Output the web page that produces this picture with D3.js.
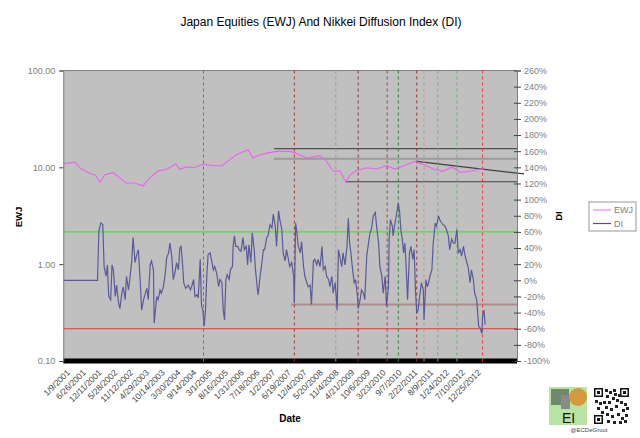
<!DOCTYPE html>
<html>
<head>
<meta charset="utf-8">
<script src="https://cdn.jsdelivr.net/npm/d3@7"></script>
<style>
  body { margin: 0; background: #fff; }
  svg { display: block; font-family: "Liberation Sans", Arial, sans-serif; }
</style>
</head>
<body>
<div id="chart"></div>
<script>
// weekly data, week 0 = 1/9/2001
const startDate = new Date(2001, 0, 9);
const endDate = new Date(2014, 2, 27);

const ewjWeeks = [0, 18, 25, 41, 48, 56, 63, 76, 89, 96, 109, 121, 129, 144, 157, 171, 177, 188, 198, 213,
  228, 241, 253, 263, 281, 288, 299, 311, 324, 344, 352, 370, 390, 400, 410, 420, 429, 436, 446, 461,
  476, 491, 504, 522, 534, 547, 562, 577, 590, 603, 618, 633, 638];
const ewjValues = [10.9, 11.3, 9.9, 8.6, 8.4, 7.0, 8.4, 8.8, 7.5, 6.9, 6.9, 6.4, 7.5, 9.2, 9.5, 10.9, 9.6, 10.1, 9.9, 10.8,
  10.4, 10.4, 12.0, 13.5, 15.2, 12.5, 13.5, 14.1, 14.6, 14.6, 14.1, 12.5, 13.2, 11.5, 9.1, 9.2, 7.1, 8.4, 9.3, 9.9,
  9.6, 10.4, 9.6, 10.7, 11.5, 10.7, 9.6, 9.1, 10.1, 8.9, 9.1, 9.6, 9.5];

const diWeeks = [0, 52, 54, 57, 60, 62, 65, 67, 69, 72, 74, 76, 79, 81, 84, 86, 89, 91, 94, 96,
  99, 101, 104, 106, 109, 111, 114, 117, 119, 122, 124, 127, 129, 132, 134, 137, 138, 142, 144, 147,
  149, 152, 155, 157, 160, 162, 165, 167, 170, 172, 175, 177, 179, 181, 183, 186, 190, 193, 195, 198,
  200, 203, 205, 208, 210, 212, 214, 216, 218, 220, 223, 225, 228, 230, 233, 236, 238, 241, 243, 245,
  247, 249, 252, 254, 257, 258, 260, 262, 265, 267, 270, 273, 275, 278, 280, 282, 285, 287, 290, 292,
  295, 296, 299, 301, 304, 306, 309, 311, 314, 317, 319, 322, 324, 327, 329, 332, 334, 337, 339, 342,
  344, 347, 350, 351, 353, 355, 357, 360, 362, 365, 367, 370, 372, 375, 377, 380, 382, 385, 387, 390,
  393, 395, 398, 400, 403, 405, 408, 410, 413, 415, 416, 418, 420, 423, 425, 428, 431, 433, 435, 437,
  439, 442, 444, 447, 448, 451, 453, 456, 458, 461, 463, 466, 468, 471, 474, 476, 479, 481, 484, 486,
  489, 491, 494, 495, 497, 500, 501, 504, 506, 509, 511, 513, 515, 517, 519, 522, 523, 526, 528, 531,
  533, 535, 537, 539, 542, 544, 547, 548, 551, 553, 555, 557, 560, 562, 565, 567, 570, 572, 575, 577,
  580, 582, 585, 587, 590, 593, 595, 598, 600, 603, 605, 608, 610, 613, 615, 618, 620, 623, 625, 628,
  631, 633, 636, 637, 639, 641];
const diValues = [0, 0, 61, 71, 69, 17, 5, 19, -20, -24, 19, 13, -20, -6, -28, -35, -16, -8, -24, 5,
  -12, 1, 24, 53, 22, 30, 38, -3, -37, -24, -18, -10, -24, 19, 24, 13, -53, -20, -24, -12,
  -16, -8, 9, 28, 34, 46, 28, 1, 11, 22, 13, 40, 42, 22, -3, -10, -6, -12, -8, 1,
  -20, -18, -22, 26, -32, -37, -57, -37, 5, 32, 34, 26, 13, 17, 9, -8, 1, -3, -37, -49,
  1, 7, 1, 13, 17, 42, 55, 42, 42, 38, 36, 53, 38, 42, 19, 44, 22, 59, 38, 13,
  -12, -18, 5, 17, 38, 38, 53, 55, 69, 65, 82, 67, 42, 86, 75, 63, 34, 24, 38, 26,
  17, 22, 5, -28, 71, 59, 42, 34, 48, 17, 5, -3, -8, -6, -30, 24, 26, 19, 26, 17,
  42, 13, 17, 5, 1, -8, 5, -16, -3, -24, -37, 38, 30, 17, 34, 19, 42, 77, 46, 34,
  17, -3, 1, -20, -35, -24, -12, -16, -24, 30, 42, 59, 63, 80, 84, 67, 46, 17, 5, -16,
  5, -32, -8, 51, 75, 67, 55, 71, 80, 96, 84, 61, 51, 34, 46, -3, -24, 34, 42, 26,
  38, -12, -41, -37, -16, -3, -12, -49, 1, -8, -3, 5, 13, 46, 71, 67, 80, 75, 71, 69,
  67, 63, 55, 38, 51, 46, 46, 63, 34, 38, 30, 42, 32, 22, 17, -3, 13, 1, -16, -24,
  -57, -59, -66, -45, -37, -55];

// reference levels on the EWJ axis
const ewjLevelValues = [15.6, 12.3, 7.1];
const ewjLevelStarts = [320, 320, 429];
const ewjLevelColors = ["#505050", "#9a9a9a", "#404040"];
const trendWeeks = [537, 700];
const trendValues = [11.5, 8.55];

// reference levels on the DI axis
const diLevelValues = [60, -60, -30];
const diLevelStarts = [0, 0, 346];
const diLevelColors = ["#33ee33", "#e05555", "#b08a8a"];

// dashed signal lines
const signalWeeks = [213, 351, 414, 448, 492, 509, 537, 548, 569, 598, 637];
const signalColors = ["#d04545", "#a03535", "#c08a8a", "#9a3030", "#a04040", "#2a8a2a",
  "#903030", "#c09595", "#6fb06f", "#6fb06f", "#ff3535"];

const ewjTicks = [100, 10, 1, 0.1];
const diTicks = d3.range(-100, 261, 20);

const W = 640, H = 438;
const plot = { left: 63.3, right: 517, top: 70.5, bottom: 361 };

const weekDate = w => d3.timeDay.offset(startDate, Math.round(w * 7));

const x = d3.scaleTime().domain([startDate, endDate]).range([plot.left, plot.right]);
const yE = d3.scaleLog().domain([0.1, 100]).range([plot.bottom, plot.top]);
const yD = d3.scaleLinear().domain([-100, 260]).range([plot.bottom, plot.top]);

const svg = d3.select("#chart").append("svg").attr("width", W).attr("height", H);

svg.append("rect").attr("x", plot.left).attr("y", plot.top)
  .attr("width", plot.right - plot.left).attr("height", plot.bottom - plot.top)
  .attr("fill", "#c0c0c0");
svg.append("line").attr("x1", plot.left).attr("x2", plot.right)
  .attr("y1", plot.top).attr("y2", plot.top).attr("stroke", "#808080");

// thick black base
svg.append("line").attr("x1", plot.left).attr("x2", plot.right)
  .attr("y1", plot.bottom).attr("y2", plot.bottom)
  .attr("stroke", "#000").attr("stroke-width", 5);

// DI levels
svg.selectAll(".dilevel").data(diLevelValues).join("line")
  .attr("x1", (d, i) => x(weekDate(diLevelStarts[i]))).attr("x2", plot.right)
  .attr("y1", d => yD(d)).attr("y2", d => yD(d))
  .attr("stroke", (d, i) => diLevelColors[i])
  .attr("stroke-width", (d, i) => i === 2 ? 2 : 1.2);

// EWJ levels
svg.selectAll(".elevel").data(ewjLevelValues).join("line")
  .attr("x1", (d, i) => x(weekDate(ewjLevelStarts[i]))).attr("x2", plot.right)
  .attr("y1", d => yE(d)).attr("y2", d => yE(d))
  .attr("stroke", (d, i) => ewjLevelColors[i])
  .attr("stroke-width", (d, i) => i === 1 ? 2 : 1.2);

svg.append("line")
  .attr("x1", x(weekDate(trendWeeks[0]))).attr("x2", x(weekDate(trendWeeks[1])))
  .attr("y1", yE(trendValues[0])).attr("y2", yE(trendValues[1]))
  .attr("stroke", "#404040").attr("stroke-width", 1.2);

// signals
svg.selectAll(".signal").data(signalWeeks).join("line")
  .attr("x1", d => x(weekDate(d))).attr("x2", d => x(weekDate(d)))
  .attr("y1", plot.top).attr("y2", plot.bottom + 2)
  .attr("stroke", (d, i) => signalColors[i])
  .attr("stroke-dasharray", "3,3");

// series
const diLine = d3.line().x((d, i) => x(weekDate(diWeeks[i]))).y(d => yD(d));
svg.append("path").datum(diValues).attr("d", diLine)
  .attr("fill", "none").attr("stroke", "#5a5a98").attr("stroke-width", 1.2);

const ewjLine = d3.line().x((d, i) => x(weekDate(ewjWeeks[i]))).y(d => yE(d));
svg.append("path").datum(ewjValues).attr("d", ewjLine)
  .attr("fill", "none").attr("stroke", "#f060f0").attr("stroke-width", 1.1);

// axes
const gL = svg.append("g").attr("transform", `translate(${plot.left},0)`)
  .call(d3.axisLeft(yE).tickValues(ewjTicks).tickFormat(d3.format(".2f")).tickSize(4).tickPadding(4));
const gR = svg.append("g").attr("transform", `translate(${plot.right},0)`)
  .call(d3.axisRight(yD).tickValues(diTicks).tickFormat(d => d + "%").tickSize(4).tickPadding(3));
gR.selectAll(".tick line").attr("x1", -3);
[gL, gR].forEach(g => {
  g.select(".domain").attr("stroke", "#808080");
  g.selectAll(".tick line").attr("stroke", "#404040");
  g.selectAll("text").attr("fill", "#808080").style("font-size", "9px")
    .style("font-family", "'Liberation Sans', Arial, sans-serif");
});

const xTicks = d3.range(0, 27).map(k => d3.timeDay.offset(startDate, 168 * k));
const fmt = d3.timeFormat("%-m/%-d/%Y");
svg.append("g").selectAll("text").data(xTicks).join("text")
  .attr("transform", d => `translate(${x(d) + 3},${plot.bottom + 8}) rotate(-45)`)
  .attr("text-anchor", "end").attr("dy", "0.7em")
  .attr("fill", "#444").style("font-size", "8.5px")
  .text(fmt);

// titles
svg.append("text").attr("x", 321).attr("y", 26).attr("text-anchor", "middle")
  .style("font-size", "12px").attr("fill", "#000")
  .text("Japan Equities (EWJ) And Nikkei Diffusion Index (DI)");
svg.append("text").attr("x", 290).attr("y", 422).attr("text-anchor", "middle")
  .style("font-size", "10px").style("font-weight", "bold").text("Date");
svg.append("text").attr("transform", "translate(22,217) rotate(-90)").attr("text-anchor", "middle")
  .style("font-size", "9.5px").style("font-weight", "bold").text("EWJ");
svg.append("text").attr("transform", "translate(562,216) rotate(-90)").attr("text-anchor", "middle")
  .style("font-size", "9.5px").style("font-weight", "bold").text("DI");

// legend
const lg = svg.append("g").attr("transform", "translate(589,202)");
lg.append("rect").attr("width", 47).attr("height", 29).attr("fill", "#fff").attr("stroke", "#999");
const legendItems = [["EWJ", "#f080f0"], ["DI", "#4f4f92"]];
legendItems.forEach(([name, c], i) => {
  lg.append("line").attr("x1", 4).attr("x2", 22).attr("y1", 8 + i * 13.5).attr("y2", 8 + i * 13.5)
    .attr("stroke", c).attr("stroke-width", 1.2);
  lg.append("text").attr("x", 25).attr("y", 8 + i * 13.5).attr("dy", "0.35em")
    .attr("fill", "#808080").style("font-size", "9px").text(name);
});

// logo
const logo = svg.append("g").attr("transform", "translate(549,387)");
logo.append("rect").attr("width", 38).attr("height", 38).attr("fill", "#b9e3a2");
logo.append("rect").attr("x", 2).attr("y", 2).attr("width", 18).attr("height", 16).attr("fill", "#6f8a6a");
logo.append("rect").attr("x", 12).attr("y", 8).attr("width", 9).attr("height", 14).attr("fill", "#8a8a8a");
logo.append("circle").attr("cx", 29).attr("cy", 10).attr("r", 9).attr("fill", "#d39a3c");
logo.append("text").attr("x", 13).attr("y", 36).style("font-size", "14px").attr("fill", "#111").text("EI");

const qr = svg.append("g").attr("transform", "translate(593,387)");
qr.append("rect").attr("width", 37).attr("height", 38).attr("fill", "#fff");
const qrCells = [[1, 1], [27, 1], [1, 28]];
qrCells.forEach(([cx, cy]) => {
  qr.append("rect").attr("x", cx).attr("y", cy).attr("width", 9).attr("height", 9).attr("fill", "#111");
  qr.append("rect").attr("x", cx + 1.5).attr("y", cy + 1.5).attr("width", 6).attr("height", 6).attr("fill", "#fff");
  qr.append("rect").attr("x", cx + 3).attr("y", cy + 3).attr("width", 3).attr("height", 3).attr("fill", "#111");
});
const qrBits = [[12, 2], [16, 4], [20, 2], [13, 8], [19, 10], [23, 12], [2, 13], [6, 15], [10, 14], [15, 14],
  [27, 14], [31, 16], [4, 20], [12, 19], [17, 21], [22, 18], [29, 22], [33, 20], [13, 26], [18, 28],
  [24, 26], [28, 30], [32, 27], [14, 33], [20, 34], [26, 34], [31, 33], [8, 24], [21, 6], [25, 7]];
qr.selectAll(".bit").data(qrBits).join("rect")
  .attr("x", d => d[0]).attr("y", d => d[1]).attr("width", 3).attr("height", 3).attr("fill", "#222");
svg.append("text").attr("x", 589).attr("y", 432).attr("text-anchor", "middle")
  .style("font-size", "6px").attr("fill", "#444").text("@ECDeGroot");
</script>
</body>
</html>
